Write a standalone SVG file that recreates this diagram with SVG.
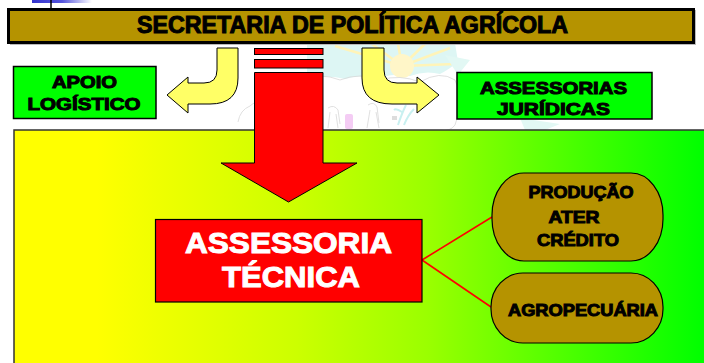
<svg xmlns="http://www.w3.org/2000/svg" width="704" height="363" viewBox="0 0 704 363">
<defs>
<linearGradient id="panelGrad" x1="14" y1="0" x2="704" y2="0" gradientUnits="userSpaceOnUse">
<stop offset="0" stop-color="#FFFF00"/>
<stop offset="0.12" stop-color="#FFFF00"/>
<stop offset="0.41" stop-color="#CCFF00"/>
<stop offset="0.6" stop-color="#9AFF00"/>
<stop offset="1" stop-color="#00FF00"/>
</linearGradient>
<linearGradient id="blueFade" x1="0" y1="0" x2="1" y2="0">
<stop offset="0" stop-color="#3333CC"/>
<stop offset="0.5" stop-color="#5555DD"/>
<stop offset="1" stop-color="#FFFFFF"/>
</linearGradient>
<style>
.lbl{font-family:"Liberation Sans",Arial,sans-serif;font-weight:bold;fill:#000;stroke:#000;stroke-width:1;text-anchor:middle}
.wlbl{font-family:"Liberation Sans",Arial,sans-serif;font-weight:bold;fill:#FFF;stroke:#FFF;stroke-width:1;text-anchor:middle}
.greenbox{fill:#00FF00;stroke:#000;stroke-width:1.5}
.olive{fill:#B59300;stroke:#000;stroke-width:1.2}
.yarrow{fill:#FFFF66;stroke:#000;stroke-width:1}
.red{fill:#FF0000;stroke:#000;stroke-width:1}
.conn{stroke:#FF0000;stroke-width:1.6;fill:none}
.wm{fill:none;stroke:#D8D8D8;stroke-width:0.8}
</style>
</defs>
<rect width="704" height="363" fill="#FFFFFF"/>

<g id="watermark">
<path d="M307 43 L455 43 L458 62 Q448 70 440 74 Q425 70 410 76 Q395 72 380 78 Q360 74 345 79 Q325 74 307 80 Z" fill="#DDF6F4"/>
<g stroke="#FFF4B8" stroke-width="2.5">
<line x1="402" y1="66" x2="335" y2="46"/>
<line x1="402" y1="66" x2="372" y2="44"/>
<line x1="402" y1="66" x2="398" y2="44"/>
<line x1="402" y1="66" x2="425" y2="44"/>
<line x1="402" y1="66" x2="450" y2="48"/>
<line x1="402" y1="66" x2="455" y2="64"/>
</g>
<circle cx="402" cy="66" r="12" fill="#FFF6C8"/>
<path class="wm" d="M300 80 Q320 72 340 80 Q360 72 380 80 Q400 74 420 82 Q440 70 455 80 Q465 100 455 125 Q450 132 440 130"/>
<path class="wm" d="M238 122 Q240 110 250 106 Q256 100 262 104"/>
<path d="M445 55 L470 60 L458 75 Z" fill="#E2F8F4"/>
<path d="M520 118 L560 124 L545 130 L525 130 Z" fill="#E2F8F4"/>
<path class="wm" d="M328 108 q6 -4 10 2 l2 14 M330 112 l-2 16 M336 114 l2 14"/>
<rect x="345" y="114" width="8" height="15" rx="2" fill="#F4CCF4"/>
<path class="wm" d="M368 105 q6 -4 9 2 l2 16 M370 110 l-3 18 M376 112 l3 16"/>
<path d="M398 125 q4 -12 8 -20 M404 125 q4 -10 10 -16 M402 112 q-6 -4 -8 -2" stroke="#C8F0F0" stroke-width="2" fill="none"/>
<rect x="392" y="116" width="5" height="4" fill="#DDDDDD"/>
</g>

<g id="logo-fragment">
<rect x="32" y="0" width="60" height="3" fill="url(#blueFade)"/>
<line x1="51" y1="0" x2="51" y2="8" stroke="#000" stroke-width="1.5"/>
</g>

<g id="title">
<rect x="8.5" y="9.5" width="685" height="33" fill="#B59300" stroke="#000" stroke-width="3"/>
<line x1="10" y1="44.5" x2="695" y2="44.5" stroke="#BBBBBB" stroke-width="1"/>
<line x1="695.5" y1="10" x2="695.5" y2="45" stroke="#BBBBBB" stroke-width="1"/>
<text class="lbl" x="352.5" y="33" font-size="23" textLength="431" lengthAdjust="spacingAndGlyphs">SECRETARIA DE POLÍTICA AGRÍCOLA</text>
</g>

<g id="apoio">
<rect class="greenbox" x="13.5" y="66.5" width="142.5" height="52"/>
<text class="lbl" x="84.5" y="88" font-size="17" textLength="65" lengthAdjust="spacingAndGlyphs">APOIO</text>
<text class="lbl" x="84" y="110" font-size="17" textLength="113" lengthAdjust="spacingAndGlyphs">LOGÍSTICO</text>
</g>

<g id="assessorias">
<rect class="greenbox" x="457" y="72.5" width="195" height="46.5"/>
<text class="lbl" x="553.5" y="94" font-size="17" textLength="147" lengthAdjust="spacingAndGlyphs">ASSESSORIAS</text>
<text class="lbl" x="553.5" y="115" font-size="17" textLength="113" lengthAdjust="spacingAndGlyphs">JURÍDICAS</text>
</g>

<g id="panel">
<rect x="14" y="130" width="700" height="245" fill="url(#panelGrad)" stroke="#333333" stroke-width="1.5"/>
</g>

<g id="connectors">
<path class="yarrow" d="M238 48 L217 48 L217 70 Q217 83 204 83 L188 83 L188 77 L167 95 L188 113 L188 104 L210 104 Q238 104 238 78 Z"/>
<path class="yarrow" d="M362 48 L384 48 L384 70 Q384 83 397 83 L417 83 L417 77 L439 95 L417 113 L417 104 L392 104 Q362 104 362 78 Z"/>
<rect class="red" x="254.5" y="48.5" width="68.5" height="6"/>
<rect class="red" x="254.5" y="59.5" width="68.5" height="8.5"/>
<path class="red" d="M254.5 72.5 L323 72.5 L323 163 L357 163 L288.5 202 L221 163 L254.5 163 Z"/>
<line class="conn" x1="422" y1="260" x2="492" y2="217"/>
<line class="conn" x1="422" y1="260" x2="491" y2="307"/>
</g>

<g id="assessoria-tecnica">
<rect x="155.5" y="219.5" width="266.5" height="82.5" fill="#FF0000" stroke="#000" stroke-width="1.2"/>
<text class="wlbl" x="288.5" y="253" font-size="29" textLength="207" lengthAdjust="spacingAndGlyphs">ASSESSORIA</text>
<text class="wlbl" x="291" y="287" font-size="29" textLength="138" lengthAdjust="spacingAndGlyphs">TÉCNICA</text>
</g>

<g id="producao">
<rect class="olive" x="492" y="173" width="171" height="88" rx="32" ry="42"/>
<text class="lbl" x="581" y="198" font-size="17" textLength="105" lengthAdjust="spacingAndGlyphs">PRODUÇÃO</text>
<text class="lbl" x="574" y="223" font-size="17" textLength="51" lengthAdjust="spacingAndGlyphs">ATER</text>
<text class="lbl" x="578" y="246" font-size="17" textLength="82" lengthAdjust="spacingAndGlyphs">CRÉDITO</text>
</g>

<g id="agropecuaria">
<rect class="olive" x="491" y="273" width="172" height="70" rx="32" ry="34"/>
<text class="lbl" x="583" y="316" font-size="17" textLength="150" lengthAdjust="spacingAndGlyphs">AGROPECUÁRIA</text>
</g>
</svg>
